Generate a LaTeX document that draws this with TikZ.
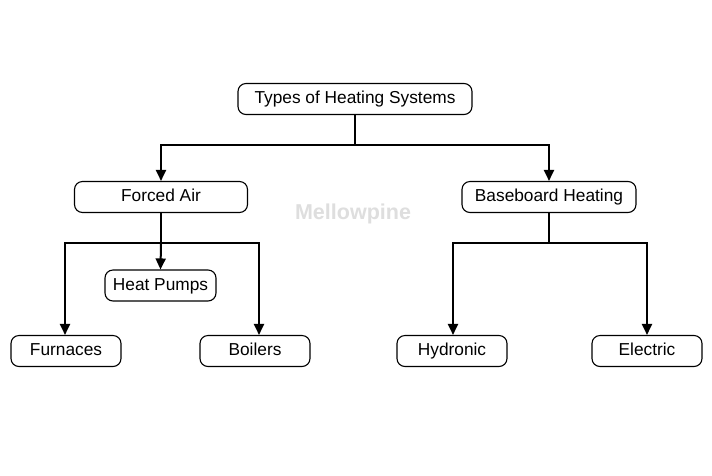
\documentclass[tikz,border=0pt]{standalone}
\usepackage{fontspec}
\setmainfont{Liberation Sans}
\usetikzlibrary{arrows.meta}
\begin{document}
\begin{tikzpicture}[x=1pt,y=-1pt,
  box/.style={draw=black, line width=1.1pt, rounded corners=8pt, fill=white,
    inner sep=0pt, minimum height=31pt, text height=12.5pt, text depth=3.5pt,
    font=\fontsize{17.3}{20}\selectfont},
  conn/.style={line width=2pt},
  arr/.style={conn, -{Triangle[length=11pt,width=10pt]}},
  wmark/.style={text=black!13, font=\fontsize{21.5}{25}\selectfont\bfseries}]
\useasboundingbox (0,0) rectangle (712,475);
\fill[white] (0,0) rectangle (712,475);

\node[wmark] (wm) at (353,214) {Mellowpine};

\node[box, minimum width=234pt] (top) at (355,99) {Types of Heating Systems};
\node[box, minimum width=173pt] (fa) at (161,197) {Forced Air};
\node[box, minimum width=174pt] (bb) at (549,197) {Baseboard Heating};
\node[box, minimum width=111pt] (hp) at (160.5,285.5) {Heat Pumps};
\node[box, minimum width=110pt] (fu) at (66,351) {Furnaces};
\node[box, minimum width=110pt] (bo) at (255,351) {Boilers};
\node[box, minimum width=110pt] (hy) at (452,351) {Hydronic};
\node[box, minimum width=110pt] (el) at (647,351) {Electric};

\coordinate (jt) at (355,145);
\coordinate (jf) at (161,243);
\coordinate (jb) at (549,243);

\draw[conn] (top.south) -- (jt);
\draw[arr] (jt) -| (fa.north);
\draw[arr] (jt) -| (bb.north);

\draw[conn] (fa.south) -- (jf);
\draw[arr] (jf) -- (hp.north);
\draw[arr] (jf) -| ([xshift=-1pt]fu.north);
\draw[arr] (jf) -| ([xshift=4pt]bo.north);

\draw[conn] (bb.south) -- (jb);
\draw[arr] (jb) -| ([xshift=1pt]hy.north);
\draw[arr] (jb) -| (el.north);
\end{tikzpicture}
\end{document}
